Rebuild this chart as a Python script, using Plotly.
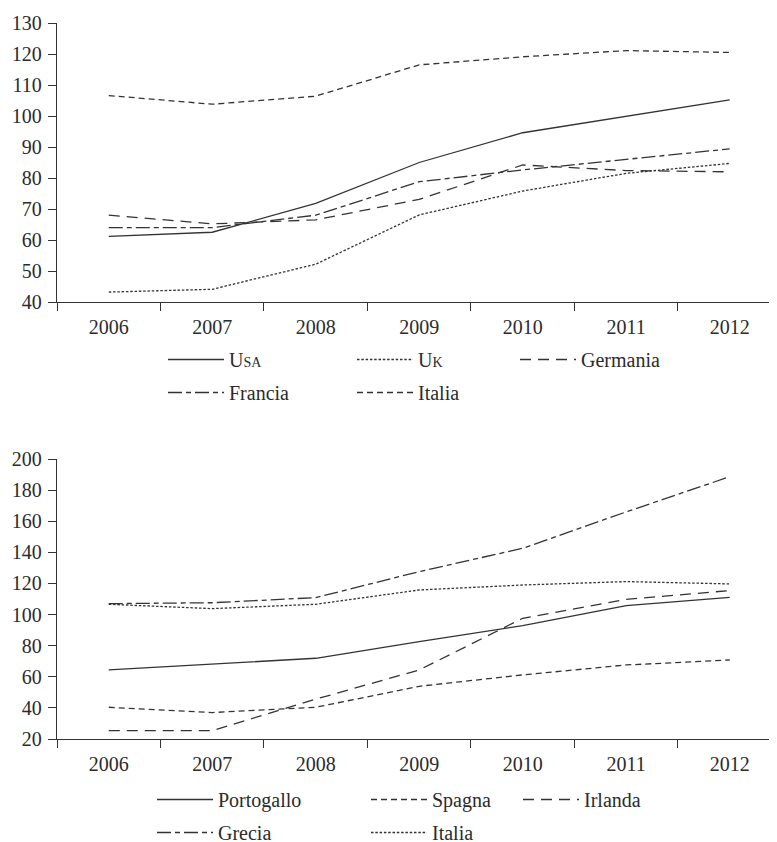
import plotly.graph_objects as go

years = ["2006", "2007", "2008", "2009", "2010", "2011", "2012"]

# Top chart
usa = [61.2, 62.5, 71.8, 85.0, 94.6, 99.8, 105.2]
uk = [43.2, 44.1, 52.2, 68.1, 75.8, 81.5, 84.7]
germania = [68.0, 65.2, 66.5, 73.1, 84.2, 82.4, 82.0]
francia = [64.0, 64.0, 68.0, 78.8, 82.6, 86.0, 89.4]
italia = [106.6, 103.8, 106.4, 116.5, 119.1, 121.1, 120.5]

# Bottom chart
portogallo = [64.4, 68.0, 71.9, 82.6, 92.9, 105.7, 111.1]
spagna = [40.4, 37.0, 40.4, 53.9, 61.2, 67.6, 70.8]
irlanda = [25.4, 25.4, 45.6, 64.4, 97.6, 109.8, 115.4]
grecia = [107.0, 107.6, 110.9, 127.6, 142.6, 166.0, 188.6]
italia_b = [106.6, 103.8, 106.6, 115.8, 119.0, 121.2, 119.7]

LINE = "#333333"
TXT = "#2b2b2b"
FONT = "Liberation Serif"
FS = 20

DOT = "2.5px,1.8px"
DASH = "6px,4px"
LONGDASH = "11px,7px"
DASHDOT = "14px,4px,5px,4px"

def sc(first, rest):
    return f"{first}<span style='font-size:14px'>{rest}</span>"

fig = go.Figure()

top = [
    (sc("U", "SA"), usa, "solid", "legend"),
    (sc("U", "K"), uk, DOT, "legend2"),
    ("Germania", germania, LONGDASH, "legend3"),
    ("Francia", francia, DASHDOT, "legend"),
    ("Italia", italia, DASH, "legend2"),
]
bottom = [
    ("Portogallo", portogallo, "solid", "legend4"),
    ("Spagna", spagna, DASH, "legend5"),
    ("Irlanda", irlanda, LONGDASH, "legend6"),
    ("Grecia", grecia, DASHDOT, "legend4"),
    ("Italia", italia_b, DOT, "legend5"),
]

for i, (name, vals, dash, lg) in enumerate(top):
    fig.add_trace(go.Scatter(x=years, y=vals, name=name, mode="lines",
                             line=dict(color=LINE, width=1.3, dash=dash),
                             legendgroup=f"t{i}",
                             xaxis="x", yaxis="y", legend=lg))
for i, (name, vals, dash, lg) in enumerate(bottom):
    fig.add_trace(go.Scatter(x=years, y=vals, name=name, mode="lines",
                             line=dict(color=LINE, width=1.3, dash=dash),
                             legendgroup=f"b{i}",
                             xaxis="x2", yaxis="y2", legend=lg))

# The page body adds an 8px offset; the figure is sized so that it ends at the window edge.
OFF = 8
W = 777 - OFF
H = 842 - OFF
L = 57 - OFF

def py(screen_y):
    return 1 - (screen_y - OFF) / H

def px(screen_x):
    return (screen_x - OFF - L) / (W - L)

xcommon = dict(type="category", range=[-0.5, 6.457], tickson="boundaries",
               ticks="outside", ticklen=8, tickwidth=1.2, tickcolor=LINE,
               showline=True, linecolor=LINE, linewidth=1.4, showgrid=False,
               zeroline=False, automargin=False, ticklabelstandoff=7,
               tickfont=dict(family=FONT, size=FS, color=TXT))
ycommon = dict(ticks="outside", ticklen=8, tickwidth=1.2, tickcolor=LINE,
               showline=True, linecolor=LINE, linewidth=1.4, showgrid=False,
               zeroline=False, automargin=False,
               tickfont=dict(family=FONT, size=FS, color=TXT),
               ticklabelstandoff=2)

legcommon = dict(orientation="v", bgcolor="rgba(0,0,0,0)", itemwidth=56,
                 font=dict(family=FONT, size=FS, color=TXT),
                 xanchor="left", yanchor="top", tracegroupgap=4,
                 traceorder="grouped")

fig.update_layout(
    width=W, height=H,
    margin=dict(l=L, r=0, t=0, b=0, autoexpand=False),
    paper_bgcolor="white", plot_bgcolor="white",
    showlegend=True,
    xaxis=dict(xcommon, domain=[0, 1], anchor="y"),
    yaxis=dict(ycommon, domain=[py(302), py(23)], range=[40, 130], dtick=10, anchor="x"),
    xaxis2=dict(xcommon, domain=[0, 1], anchor="y2"),
    yaxis2=dict(ycommon, domain=[py(739), py(459)], range=[20, 200], dtick=20, anchor="x2"),
    legend=dict(legcommon, x=px(163), y=py(340)),
    legend2=dict(legcommon, x=px(352), y=py(340)),
    legend3=dict(legcommon, x=px(515), y=py(340)),
    legend4=dict(legcommon, x=px(152), y=py(780)),
    legend5=dict(legcommon, x=px(366), y=py(780)),
    legend6=dict(legcommon, x=px(518), y=py(780)),
)

fig.write_html("out.html")
